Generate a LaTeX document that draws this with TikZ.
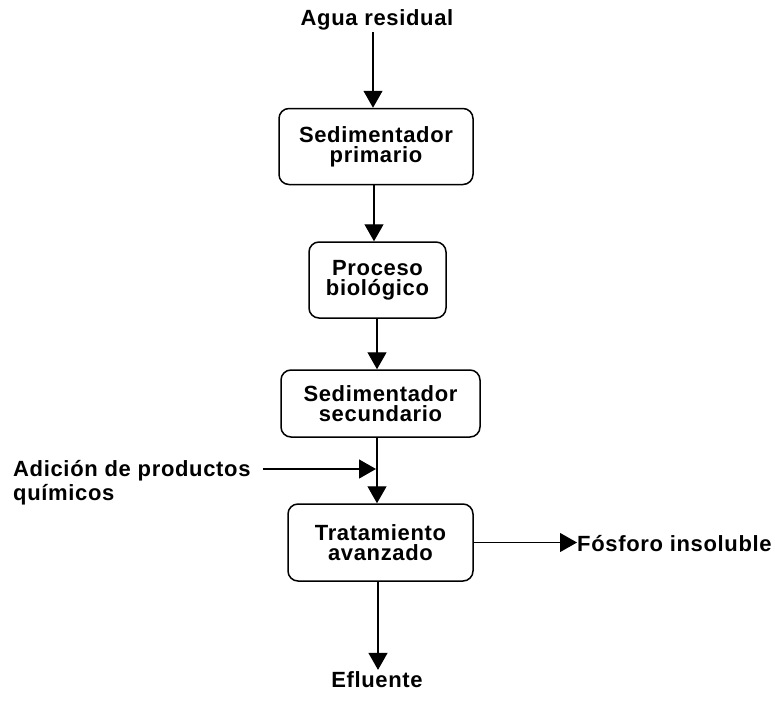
\documentclass[tikz,border=0pt]{standalone}
\usepackage{fontspec}
\newfontfamily\lab{Liberation Sans}[LetterSpace=3]
\usetikzlibrary{arrows.meta}
\begin{document}
\begin{tikzpicture}[x=1pt,y=-1pt,
  lbl/.style={font=\lab\bfseries\fontsize{22}{20}\selectfont, inner sep=1pt},
  box/.style={draw, line width=1.5pt, rounded corners=10pt, align=center, inner sep=0pt,
    font=\lab\bfseries\fontsize{22}{20}\selectfont},
  arr/.style={line width=1.3pt, -{Triangle[length=17pt,width=19pt]}}]
\useasboundingbox (0,0) rectangle (775,701);
\node[lbl, anchor=base] (src) at (377,26) {Agua residual};
\node[box, minimum width=194pt, minimum height=76pt] (b1) at (376,146.5) {Sedimentador\\primario};
\node[box, minimum width=137pt, minimum height=76pt] (b2) at (377.5,280) {Proceso\\biológico};
\node[box, minimum width=199pt, minimum height=67pt] (b3) at (380.5,403.5) {Sedimentador\\secundario};
\node[box, minimum width=185pt, minimum height=77pt] (b4) at (380.5,542.5) {Tratamiento\\avanzado};
\node[lbl, anchor=base west] (chem) at (12,476) {Adición de productos};
\node[lbl, anchor=base west] (chemb) at (12,500) {químicos};
\node[lbl, anchor=base west, inner sep=0pt] (fos) at (577,551) {Fósforo insoluble};
\node[lbl, anchor=base] (eff) at (377,687) {Efluente};
\coordinate (cs) at (263,469);
\coordinate (ce) at (376,469);
\draw[arr] ([xshift=-4pt]src.south) -- ([xshift=-3pt]b1.north);
\draw[arr] ([xshift=-2pt]b1.south) -- ([xshift=-3.5pt]b2.north);
\draw[arr] ([xshift=-0.5pt]b2.south) -- ([xshift=-3.5pt]b3.north);
\draw[arr] ([xshift=-3.5pt]b3.south) -- ([xshift=-3.5pt]b4.north);
\draw[arr] (cs) -- (ce);
\draw[arr, line width=1pt] (b4.east) -- (b4.east -| fos.west);
\draw[arr] ([xshift=-2.5pt]b4.south) -- ([xshift=1pt]eff.north);
\end{tikzpicture}
\end{document}
